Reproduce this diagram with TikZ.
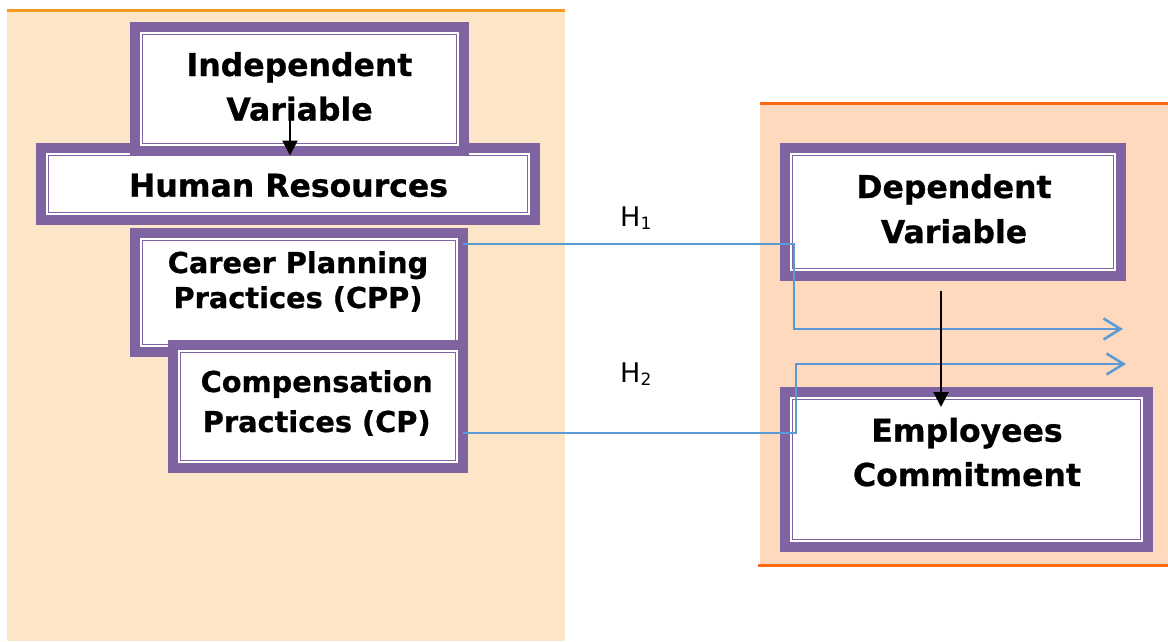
\documentclass[tikz,border=0pt]{standalone}
\usepackage{fontspec}
\setmainfont{DejaVu Sans}
\newfontfamily\boxfont{DejaVu Sans Bold}[FakeBold=0.8]
\usetikzlibrary{arrows.meta}
\definecolor{pur}{HTML}{8064A2}
\definecolor{bgL}{HTML}{FDE5C8}
\definecolor{bgR}{HTML}{FED9BE}
\definecolor{orL}{HTML}{F79A1E}
\definecolor{orR}{HTML}{FF6A10}
\definecolor{lnB}{HTML}{5B9BD5}
\tikzset{
 outerbox/.style={fill=pur, draw=none, inner sep=0pt, outer sep=0pt, anchor=north west},
 thinline/.style={draw=pur, line width=1.6pt, fill=white},
 bigtxt/.style={font=\boxfont\fontsize{31.5}{38}\selectfont, inner sep=0pt, anchor=base},
 midtxt/.style={font=\boxfont\fontsize{28.8}{35}\selectfont, inner sep=0pt, anchor=base},
 htxt/.style={font=\fontsize{27}{30}\selectfont, inner sep=0pt, anchor=base west},
 hyp/.style={draw=lnB, line width=2.6pt, -{Straight Barb[length=17pt,width=21pt]}},
 blkarrow/.style={draw=black, line width=2.4pt, -{Triangle[length=15pt,width=15pt]}},
}
\newcommand\dbox[5]{%
 \node[outerbox, minimum width={#4-#2}, minimum height={#5-#3}] (#1) at (#2,#3) {};
 \fill[white] ([shift={(10,10)}]#1.north west) rectangle ([shift={(-10,-10)}]#1.south east);
 \draw[thinline] ([shift={(12.5,12.5)}]#1.north west) rectangle ([shift={(-12.5,-12.5)}]#1.south east);
}
\begin{document}
\begin{tikzpicture}[x=1pt,y=-1pt]
\useasboundingbox (0,0) rectangle (1168,641);
\fill[bgL] (7,10) rectangle (565,641);
\draw[orL, line width=3pt] (7,10) -- (565,10);
\fill[bgR] (760,103) rectangle (1168,565);
\draw[orR, line width=3pt] (760,103) -- (1168,103);
\draw[orR, line width=3pt] (758,565) -- (1168,565);

\dbox{hr}{36}{143}{540}{225}
\dbox{iv}{130}{22}{469}{156}
\dbox{cpp}{130}{228}{468}{357}
\dbox{cp}{168}{340}{468}{473}
\dbox{dv}{780}{143}{1126}{281}
\dbox{ec}{780}{387}{1153}{552}

\node[bigtxt] (t1) at (299.5,76) {Independent};
\node[bigtxt] (t2) at (299.5,120.5) {Variable};
\node[bigtxt] (t3) at (288.5,196.7) {Human Resources};
\node[midtxt] (t4) at (298,273) {Career Planning};
\node[midtxt] (t5) at (298,308) {Practices (CPP)};
\node[midtxt] (t6) at (316.7,392) {Compensation};
\node[midtxt] (t7) at (316.7,432) {Practices (CP)};
\node[bigtxt] (t8) at (954,198) {Dependent};
\node[bigtxt] (t9) at (954,243) {Variable};
\node[bigtxt] (t10) at (967,441.7) {Employees};
\node[bigtxt] (t11) at (967,486) {Commitment};

\node[htxt] (h1) at (620,226.7) {H\raisebox{-2.3pt}{\fontsize{17}{17}\selectfont 1}};
\node[htxt] (h2) at (620,382.7) {H\raisebox{-2.3pt}{\fontsize{17}{17}\selectfont 2}};

\coordinate (h1end) at (1123,329);
\coordinate (h2end) at (1126,364);
\draw[hyp] ([shift={(-5,-48.5)}]cpp.east) -- ++(331,0) |- (h1end);
\draw[hyp] ([shift={(-5,26.5)}]cp.east) -- ++(333,0) |- (h2end);

\draw[blkarrow] ([shift={(-9.5,28)}]iv.center) -- ([shift={(2,12.5)}]hr.north);
\draw[blkarrow] ([shift={(-12,10)}]dv.south) -- ([shift={(-25.5,20)}]ec.north);
\end{tikzpicture}
\end{document}
